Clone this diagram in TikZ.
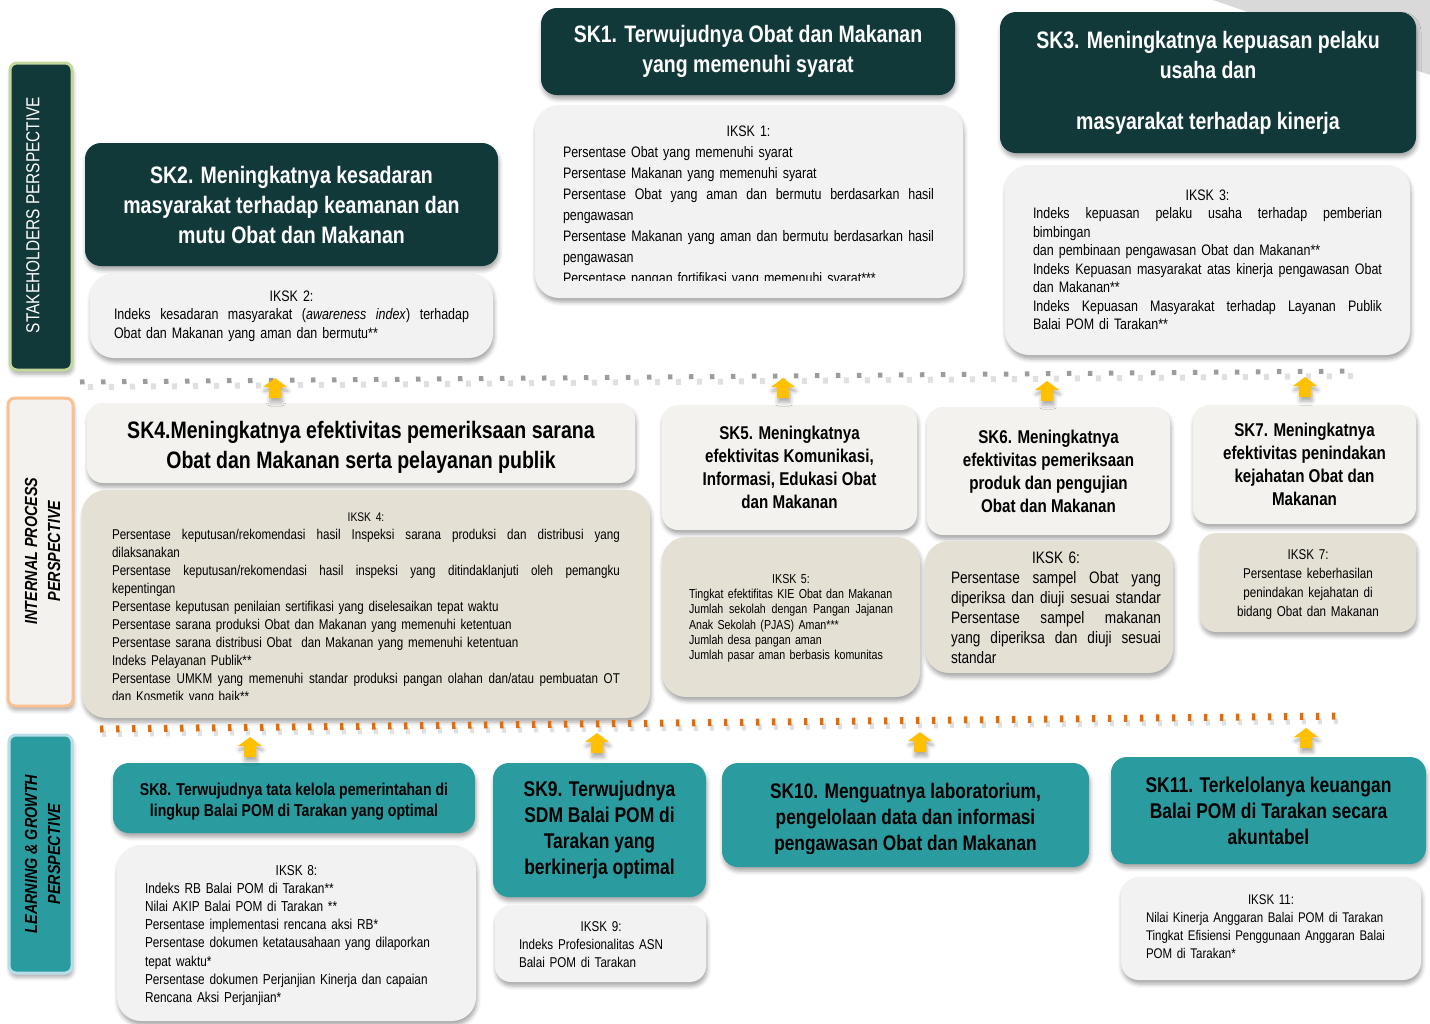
\documentclass[tikz,border=0pt]{standalone}
\usepackage{fontspec}
\setmainfont{Liberation Sans}[FakeStretch=0.82]
\usetikzlibrary{shadows.blur}

\definecolor{skdark}{HTML}{12393A}
\definecolor{stakeborder}{HTML}{C3D69B}
\definecolor{ipbarfill}{HTML}{F3F2EF}
\definecolor{ipborder}{HTML}{FAC090}
\definecolor{lgteal}{HTML}{2A9CA0}
\definecolor{lgborder}{HTML}{B7DEE8}
\definecolor{ikgray}{HTML}{F2F2F2}
\definecolor{iplight}{HTML}{F3F2EE}
\definecolor{ipbeige}{HTML}{E5E0D4}
\definecolor{arrowyellow}{HTML}{FFC000}
\definecolor{dashorange}{HTML}{E36C0A}
\definecolor{dotgray}{HTML}{9C9C9C}
\definecolor{cornergray}{HTML}{D9D9D9}

\newcommand{\jline}[1]{\makebox[\linewidth][s]{\spaceskip=0pt\xspaceskip=0pt\relax #1}}
\newcommand{\ttl}[1]{\makebox[\linewidth]{#1}}

\begin{document}
\begin{tikzpicture}[x=1pt, y=-1pt,
  shade/.style={blur shadow={shadow xshift=1pt, shadow yshift=-4pt, shadow blur radius=4pt, shadow opacity=35}},
  sknode/.style={shade, rounded corners=16pt, align=center, inner sep=0pt},
  darknode/.style={sknode, fill=skdark, text=white, font=\bfseries\fontsize{23.8}{30}\selectfont},
  ipnode/.style={sknode, fill=iplight, font=\bfseries\fontsize{18.5}{23}\selectfont},
  lgnode/.style={sknode, fill=lgteal, font=\bfseries\fontsize{21.3}{26}\selectfont},
  ikbox/.style={shade, rounded corners=24pt, fill=ikgray, inner sep=0pt},
  ipbox/.style={ikbox, fill=ipbeige},
  iktext/.style={anchor=base, align=left, inner sep=0pt},
  pbar/.style={shade, rounded corners=7pt, line width=3pt, inner sep=0pt},
  ptext/.style={rotate=90, align=center, inner sep=0pt, font=\bfseries\itshape\fontsize{17.5}{23}\selectfont},
  graydots/.style={draw=dotgray, line width=5pt, dash pattern=on 4.5pt off 16.5pt},
  orangedash/.style={draw=dashorange, line width=7pt, dash pattern=on 3.5pt off 12.5pt},
  dotshadow/.style={draw=black, opacity=0.12, line width=6pt},
  uparrow/.pic={\fill[arrowyellow, shade] (0,-10) -- (12,-1) -- (6,-1) -- (6,10) -- (-6,10) -- (-6,-1) -- (-12,-1) -- cycle;}]

\useasboundingbox (0,0) rectangle (1430,1023);
\fill[cornergray] (1213,0) -- (1430,0) -- (1430,75) -- cycle;

% perspective bars
\node[pbar, fill=skdark, draw=stakeborder, minimum width=62, minimum height=307] (pstake) at (41,216.5) {};
\node[ptext, text=white, font=\fontsize{18.8}{23}\selectfont] (pstaket) at (33,215) {STAKEHOLDERS PERSPECTIVE};
\node[pbar, fill=ipbarfill, draw=ipborder, minimum width=65, minimum height=308] (pintern) at (40.5,552) {};
\node[ptext] (pinternt) at (42.5,551) {INTERNAL PROCESS\\PERSPECTIVE};
\node[pbar, fill=lgteal, draw=lgborder, minimum width=63, minimum height=238] (plearn) at (40.5,854) {};
\node[ptext] (plearnt) at (42.5,854) {LEARNING \& GROWTH\\PERSPECTIVE};

% stakeholders row
\node[darknode, minimum width=414, minimum height=87] (sk1) at (748,51.5) {SK1. Terwujudnya Obat dan Makanan\\yang memenuhi syarat};
\node[darknode, minimum width=416, minimum height=141] (sk3) at (1208,82.5) {SK3. Meningkatnya kepuasan pelaku\\usaha dan\\[21pt]masyarakat terhadap kinerja};
\node[darknode, minimum width=413, minimum height=123] (sk2) at (291.5,204.5) {SK2. Meningkatnya kesadaran\\masyarakat terhadap keamanan dan\\mutu Obat dan Makanan};

\node[ikbox, minimum width=428, minimum height=193] (iksk1) at (749,201.5) {};
\node[ikbox, minimum width=405, minimum height=190] (iksk3) at (1207.5,260) {};
\node[ikbox, minimum width=403, minimum height=85] (iksk2) at (291.5,315.5) {};

\begin{scope}
  \clip (535,105) rectangle (963,280);
  \node[iktext, text width=371, font=\fontsize{15.2}{21}\selectfont] (iksk1t) at (748.5,136.5) {\ttl{IKSK 1:}\\
  Persentase Obat yang memenuhi syarat\\
  Persentase Makanan yang memenuhi syarat\\
  \jline{Persentase Obat yang aman dan bermutu berdasarkan hasil}\\
  pengawasan\\
  \jline{Persentase Makanan yang aman dan bermutu berdasarkan hasil}\\
  pengawasan\\
  Persentase pangan fortifikasi yang memenuhi syarat***};
\end{scope}
\node[iktext, text width=349, font=\fontsize{15.2}{18.5}\selectfont] (iksk3t) at (1207.5,200) {\ttl{IKSK 3:}\\
  \jline{Indeks kepuasan pelaku usaha terhadap pemberian}\\
  bimbingan\\
  dan pembinaan pengawasan Obat dan Makanan**\\
  \jline{Indeks Kepuasan masyarakat atas kinerja pengawasan Obat}\\
  dan Makanan**\\
  \jline{Indeks Kepuasan Masyarakat terhadap Layanan Publik}\\
  Balai POM di Tarakan**};
\node[iktext, text width=355, font=\fontsize{15.2}{18.5}\selectfont] (iksk2t) at (291.5,301) {\ttl{IKSK 2:}\\
  \jline{Indeks kesadaran masyarakat (\textit{awareness index}) terhadap}\\
  Obat dan Makanan yang aman dan bermutu**};

% internal process row
\node[ipnode, minimum width=548, minimum height=80, font=\bfseries\fontsize{23.8}{30}\selectfont] (sk4) at (361,443) {\rule{0pt}{26pt}SK4.Meningkatnya efektivitas pemeriksaan sarana\\Obat dan Makanan serta pelayanan publik};
\node[ipnode, minimum width=255, minimum height=125] (sk5) at (789.5,467.5) {SK5. Meningkatnya\\efektivitas Komunikasi,\\Informasi, Edukasi Obat\\dan Makanan};
\node[ipnode, minimum width=243, minimum height=128] (sk6) at (1048.5,471) {SK6. Meningkatnya\\efektivitas pemeriksaan\\produk dan pengujian\\Obat dan Makanan};
\node[ipnode, minimum width=223, minimum height=119] (sk7) at (1304.5,464.5) {SK7. Meningkatnya\\efektivitas penindakan\\kejahatan Obat dan\\Makanan};

\node[ipbox, minimum width=568, minimum height=228] (iksk4) at (366,604) {};
\node[ipbox, minimum width=258, minimum height=160] (iksk5) at (791,617) {};
\node[ipbox, minimum width=248, minimum height=132] (iksk6) at (1049,607) {};
\node[ipbox, minimum width=216, minimum height=99, rounded corners=16pt] (iksk7) at (1308,582.5) {};

\begin{scope}
  \clip (82,490) rectangle (650,699);
  \node[iktext, text width=508, font=\fontsize{14.2}{18}\selectfont] (iksk4t) at (366,521.5) {\ttl{\fontsize{12.5}{18}\selectfont IKSK 4:}\\
  \jline{Persentase keputusan/rekomendasi hasil Inspeksi sarana produksi dan distribusi yang}\\
  dilaksanakan\\
  \jline{Persentase keputusan/rekomendasi hasil inspeksi yang ditindaklanjuti oleh pemangku}\\
  kepentingan\\
  Persentase keputusan penilaian sertifikasi yang diselesaikan tepat waktu\\
  Persentase sarana produksi Obat dan Makanan yang memenuhi ketentuan\\
  Persentase sarana distribusi Obat\ \ dan Makanan yang memenuhi ketentuan\\
  Indeks Pelayanan Publik**\\
  \jline{Persentase UMKM yang memenuhi standar produksi pangan olahan dan/atau pembuatan OT}\\
  dan Kosmetik yang baik**};
\end{scope}
\node[iktext, text width=204, font=\fontsize{13}{15.2}\selectfont] (iksk5t) at (791,583.5) {\ttl{IKSK 5:}\\
  Tingkat efektifitas KIE Obat dan Makanan\\
  \jline{Jumlah sekolah dengan Pangan Jajanan}\\
  Anak Sekolah (PJAS) Aman***\\
  Jumlah desa pangan aman\\
  Jumlah pasar aman berbasis komunitas};
\node[iktext, text width=210, font=\fontsize{16.6}{20}\selectfont] (iksk6t) at (1056,563) {\ttl{IKSK 6:}\\
  \jline{Persentase sampel Obat yang}\\
  \jline{diperiksa dan diuji sesuai standar}\\
  \jline{Persentase sampel makanan}\\
  \jline{yang diperiksa dan diuji sesuai}\\
  standar};
\node[iktext, align=center, text width=200, font=\fontsize{14.2}{19}\selectfont] (iksk7t) at (1308,559) {IKSK 7:\\
  Persentase keberhasilan\\
  penindakan kejahatan di\\
  bidang Obat dan Makanan};

% learning & growth row
\node[lgnode, minimum width=362, minimum height=70, font=\bfseries\fontsize{17.2}{21}\selectfont] (sk8) at (294,798) {\rule{0pt}{20pt}SK8. Terwujudnya tata kelola pemerintahan di\\lingkup Balai POM di Tarakan yang optimal};
\node[lgnode, minimum width=213, minimum height=134] (sk9) at (599.5,830) {SK9. Terwujudnya\\SDM Balai POM di\\Tarakan yang\\berkinerja optimal};
\node[lgnode, minimum width=367, minimum height=104] (sk10) at (905.5,815) {};
\begin{scope}
  \clip (722,763) rectangle (1089,853);
  \node[align=center, inner sep=0pt, font=\bfseries\fontsize{21.1}{26}\selectfont] (sk10t) at (905.5,819) {SK10. Menguatnya laboratorium,\\pengelolaan data dan informasi\\pengawasan Obat dan Makanan};
\end{scope}
\node[lgnode, minimum width=315, minimum height=107] (sk11) at (1268.5,810.5) {SK11. Terkelolanya keuangan\\Balai POM di Tarakan secara\\akuntabel};

\node[ikbox, minimum width=359, minimum height=176] (iksk8) at (296.5,933) {};
\node[ikbox, minimum width=211, minimum height=77, rounded corners=16pt] (iksk9) at (600.5,943.5) {};
\node[ikbox, minimum width=300, minimum height=103, rounded corners=18pt] (iksk11) at (1271,928.5) {};

\node[iktext, text width=300, font=\fontsize{14.4}{18.2}\selectfont] (iksk8t) at (295,875) {\makebox[303pt]{IKSK 8:}\\
  Indeks RB Balai POM di Tarakan**\\
  Nilai AKIP Balai POM di Tarakan **\\
  Persentase implementasi rencana aksi RB*\\
  Persentase dokumen ketatausahaan yang dilaporkan\\
  tepat waktu*\\
  Persentase dokumen Perjanjian Kinerja dan capaian\\
  Rencana Aksi Perjanjian*};
\node[iktext, text width=160, font=\fontsize{14.2}{18}\selectfont] (iksk9t) at (599,931) {\makebox[164pt]{IKSK 9:}\\
  Indeks Profesionalitas ASN\\
  Balai POM di Tarakan};
\node[iktext, text width=252, font=\fontsize{14}{18.3}\selectfont] (iksk11t) at (1272,904) {\makebox[250pt]{IKSK 11:}\\
  Nilai Kinerja Anggaran Balai POM di Tarakan\\
  Tingkat Efisiensi Penggunaan Anggaran Balai\\
  POM di Tarakan*};

% separators
\coordinate (gstart) at (80,382);
\coordinate (gend) at (1356,371);
\draw[dotshadow, dash pattern=on 5pt off 16pt] ([shift={(8,5)}]gstart) -- ([shift={(8,5)}]gend);
\draw[graydots] (gstart) -- (gend);
\coordinate (ostart) at (100,729);
\coordinate (oend) at (1346,716);
\draw[dotshadow, dash pattern=on 4pt off 12pt] ([shift={(2,5)}]ostart) -- ([shift={(2,5)}]oend);
\draw[orangedash] (ostart) -- (oend);

% arrows
\foreach \ax/\ay in {275/388, 783/388, 1047/391, 1305/387, 250/747, 597/743, 920/742, 1306/738}
  \pic at (\ax,\ay) {uparrow};
\end{tikzpicture}
\end{document}
